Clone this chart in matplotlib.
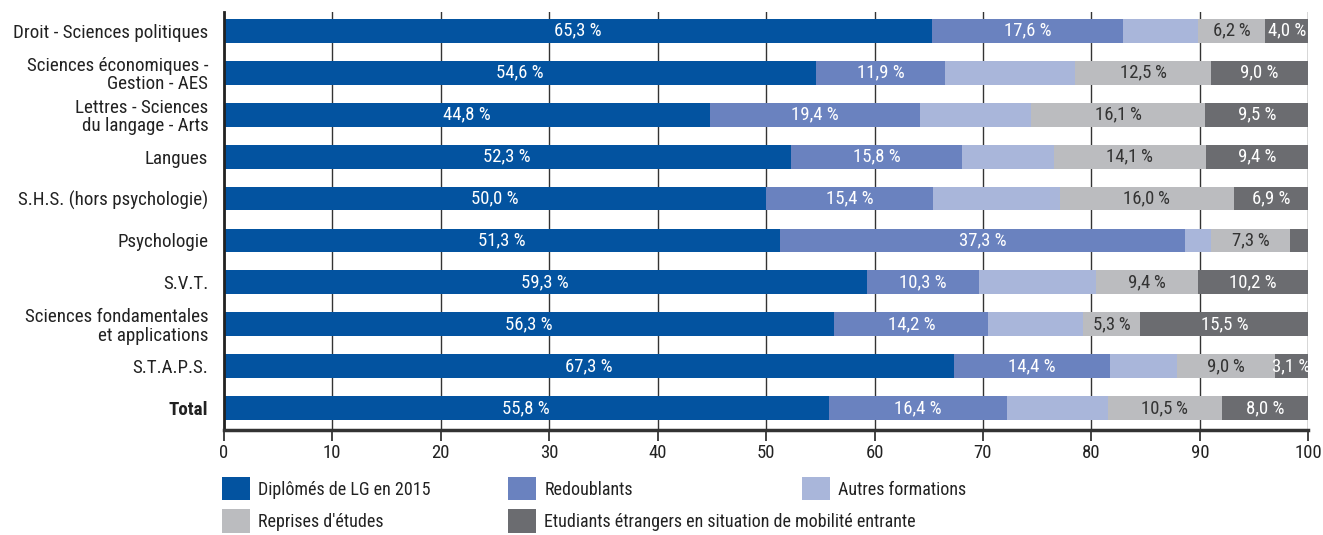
import matplotlib
matplotlib.use("Agg")
import matplotlib.pyplot as plt
from matplotlib.patches import Patch
import numpy as np

plt.rcParams['font.family'] = ['Roboto Condensed', 'Liberation Sans', 'DejaVu Sans']

categories = [
    "Droit - Sciences politiques",
    "Sciences économiques -\nGestion - AES",
    "Lettres - Sciences\ndu langage - Arts",
    "Langues",
    "S.H.S. (hors psychologie)",
    "Psychologie",
    "S.V.T.",
    "Sciences fondamentales\net applications",
    "S.T.A.P.S.",
    "Total",
]

diplomes = [65.3, 54.6, 44.8, 52.3, 50.0, 51.3, 59.3, 56.3, 67.3, 55.8]
redoublants = [17.6, 11.9, 19.4, 15.8, 15.4, 37.3, 10.3, 14.2, 14.4, 16.4]
autres = [6.9, 12.0, 10.2, 8.4, 11.7, 2.4, 10.8, 8.7, 6.2, 9.3]
reprises = [6.2, 12.5, 16.1, 14.1, 16.0, 7.3, 9.4, 5.3, 9.0, 10.5]
etrangers = [4.0, 9.0, 9.5, 9.4, 6.9, 1.7, 10.2, 15.5, 3.1, 8.0]

series_names = [
    "Diplômés de LG en 2015",
    "Redoublants",
    "Autres formations",
    "Reprises d'études",
    "Etudiants étrangers en situation de mobilité entrante",
]
colors = ["#0353a0", "#6a82bf", "#a9b6da", "#bbbcbf", "#6b6c70"]
label_colors = ["white", "white", None, "#333333", "white"]

fig = plt.figure(figsize=(13.23, 5.35), dpi=100)
ax = fig.add_axes([0.169, 0.196, 0.82, 0.782])

y = np.arange(len(categories))
left = np.zeros(len(categories))
series = [diplomes, redoublants, autres, reprises, etrangers]
for k, vals in enumerate(series):
    vals = np.array(vals)
    ax.barh(y, vals, left=left, height=0.57, color=colors[k], zorder=2)
    if label_colors[k] is not None:
        for i, v in enumerate(vals):
            if v < 2:
                continue
            s = f"{v:.1f}".replace(".", ",")
            s = s + ("\u2009%" if k == 3 else " %")
            ax.text(left[i] + v / 2, y[i], s, ha="center", va="center",
                    color=label_colors[k], fontsize=13.5, zorder=3)
    left += vals

ax.set_xlim(0, 100)
ax.set_ylim(len(categories) - 0.48, -0.45)
ax.set_xticks(range(0, 101, 10))
ax.tick_params(axis="x", length=8, width=1.2, color="#222222", labelsize=13.5,
               pad=2, labelcolor="#222222")
ax.set_yticks(y)
ax.set_yticklabels(categories, fontsize=13.7, color="#222222", linespacing=1.02)
ax.get_yticklabels()[-1].set_fontweight("bold")
ax.tick_params(axis="y", length=0, pad=11)

ax.grid(axis="x", color="#333333", linewidth=1.0, zorder=0)
ax.set_axisbelow(True)
for side in ["top", "right"]:
    ax.spines[side].set_visible(False)
ax.spines["left"].set_linewidth(2)
ax.spines["left"].set_color("#222222")
ax.spines["bottom"].set_linewidth(2.5)
ax.spines["bottom"].set_color("#333333")

# legend: one legend per column so the columns sit where the reference has them
handles = [Patch(facecolor=c) for c in colors]
columns = [([0, 3], 0.168), ([1, 4], 0.384), ([2], 0.606)]
for idx, x0 in columns:
    fig.legend([handles[i] for i in idx], [series_names[i] for i in idx],
               loc="upper left", bbox_to_anchor=(x0, 0.108),
               frameon=False, fontsize=13, handlelength=1.55, handleheight=1.6,
               handletextpad=0.45, labelspacing=0.5, labelcolor="#222222",
               borderaxespad=0, borderpad=0)

fig.savefig("out.png", dpi=100)
